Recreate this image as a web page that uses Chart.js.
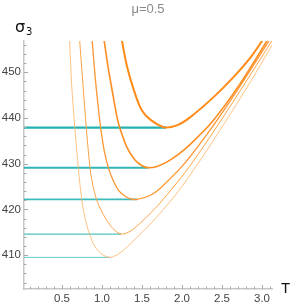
<!DOCTYPE html>
<html lang="en">
<head>
  <meta charset="UTF-8" />
  <title>sigma3 vs T, mu=0.5</title>
  <script src="https://cdn.jsdelivr.net/npm/chart.js@4.4.1/dist/chart.umd.min.js"></script>
  <style>
    body {
      margin: 0;
      background: #fff;
    }
    .wrap {
      position: relative;
      width: 291px;
      height: 308px;
    }
  </style>
</head>
<body>

<div class="wrap"><canvas id="sigmaChart"></canvas></div>

<script>
  // curves sigma3(T), lowest (thin) to highest (thick)
  const curve1T = [0.594, 0.621, 0.6625, 0.704, 0.746, 0.7875, 0.841, 0.9125, 0.996, 1.10, 1.225, 1.35, 1.475, 1.60, 1.9125, 2.225, 2.5375, 2.85, 3.181];
  const curve1S = [457.48, 447.20, 437.35, 429.10, 422.19, 418.10, 414.75, 411.82, 410.22, 409.50, 410.48, 412.41, 414.53, 416.72, 423.00, 430.66, 439.04, 447.77, 457.61];

  const curve2T = [0.71875, 0.7625, 0.80625, 0.85, 0.885, 0.93125, 0.9875, 1.05, 1.1375, 1.2375, 1.35, 1.475, 1.60, 1.725, 2.0375, 2.35, 2.725, 3.15];
  const curve2S = [457.48, 447.20, 437.35, 429.10, 425.32, 422.19, 419.85, 417.88, 415.80, 414.60, 415.19, 416.94, 419.08, 421.38, 428.07, 435.86, 445.89, 457.61];

  const curve3T = [0.875, 0.9125, 0.95, 0.9875, 1.03125, 1.08125, 1.1375, 1.20, 1.275, 1.35, 1.4375, 1.60, 1.725, 2.0375, 2.4125, 2.7875, 3.125];
  const curve3S = [457.48, 449.39, 442.82, 437.35, 432.54, 429.04, 426.41, 424.33, 423.02, 422.36, 422.19, 423.04, 424.57, 430.17, 438.88, 448.67, 457.92];

  const curve4T = [1.0225, 1.07875, 1.1375, 1.1875, 1.23125, 1.30875, 1.4125, 1.50, 1.57875, 1.6875, 1.80875, 1.95, 2.10, 2.375, 2.725, 3.0875];
  const curve4S = [457.48, 450.85, 445.01, 440.20, 437.35, 433.70, 430.79, 429.54, 429.10, 429.41, 430.35, 431.99, 434.18, 439.10, 447.46, 457.61];

  const curve5T = [1.24375, 1.30875, 1.39125, 1.475, 1.5375, 1.6125, 1.70, 1.80, 1.95, 2.10, 2.3875, 2.6375, 2.85, 3.025];
  const curve5S = [457.48, 451.58, 446.48, 442.45, 440.74, 439.54, 438.56, 437.90, 438.49, 440.13, 444.46, 448.84, 453.11, 457.48];

  // minima, marked by horizontal lines from the axis
  const minT = [1.10, 1.2375, 1.4375, 1.57875, 1.80];
  const minS = [409.50, 414.60, 422.19, 429.10, 437.90];

  const xTicks = [0.5, 1.0, 1.5, 2.0, 2.5, 3.0];
  const yTicks = [410, 420, 430, 440, 450];

  const xMin = 0.025, xMax = 3.125;
  const yMin = 402.58, yMax = 456.85;

  const curves = [
    [curve1T, curve1S],
    [curve2T, curve2S],
    [curve3T, curve3S],
    [curve4T, curve4S],
    [curve5T, curve5S]
  ];
  const orangeColors = ['#ffb163', '#ffa244', '#ff9632', '#ff8d20', '#ff8a16'];
  const orangeWidths = [0.8, 1.0, 1.3, 1.6, 2.0];
  const cyanColors = ['#66cbcb', '#4cc2c2', '#3dbcbc', '#30b6b6', '#25b1b1'];
  const cyanWidths = [1.0, 1.3, 1.6, 1.9, 2.2];

  const toPoints = (ts, ss) => ts.map((t, i) => ({ x: t, y: ss[i] }));

  const datasets = [];
  // orange curves first so they sit on top of the cyan lines
  curves.forEach(([ts, ss], i) => {
    datasets.push({
      data: toPoints(ts, ss),
      borderColor: orangeColors[i],
      borderWidth: orangeWidths[i],
      showLine: true,
      pointRadius: 0,
      tension: 0.3
    });
  });
  minT.forEach((t, i) => {
    datasets.push({
      data: [{ x: xMin, y: minS[i] }, { x: t, y: minS[i] }],
      borderColor: cyanColors[i],
      borderWidth: cyanWidths[i],
      showLine: true,
      pointRadius: 0
    });
  });

  const labelFont = { family: "'Liberation Sans', Arial, sans-serif", size: 11.5 };

  // inward major/minor ticks plus the title and axis labels
  const axisDecor = {
    id: 'axisDecor',
    afterDraw(chart) {
      const { ctx, chartArea: a, scales: { x, y } } = chart;
      ctx.save();
      ctx.strokeStyle = '#a8a8a8';
      ctx.lineWidth = 1;
      ctx.beginPath();
      for (let v = 404; v <= 456; v += 2) {
        const py = Math.round(y.getPixelForValue(v)) + 0.5;
        const len = v % 10 === 0 ? 4 : 2.5;
        ctx.moveTo(a.left, py);
        ctx.lineTo(a.left + len, py);
      }
      for (let i = 1; i <= 31; i++) {
        const px = Math.round(x.getPixelForValue(i / 10)) + 0.5;
        const len = i % 5 === 0 ? 4 : 2.5;
        ctx.moveTo(px, a.bottom);
        ctx.lineTo(px, a.bottom - len);
      }
      ctx.stroke();

      ctx.fillStyle = '#8a8a8a';
      ctx.font = "13px 'Liberation Sans', Arial, sans-serif";
      ctx.textAlign = 'center';
      ctx.textBaseline = 'alphabetic';
      ctx.fillText('μ=0.5', (a.left + a.right) / 2, 13);

      ctx.fillStyle = '#111';
      ctx.textAlign = 'left';
      ctx.font = "16px 'DejaVu Sans', sans-serif";
      ctx.fillText('σ', 15, 32);
      ctx.font = "10px 'DejaVu Sans', sans-serif";
      ctx.fillText('3', 26, 35);
      ctx.font = "15px 'Liberation Sans', Arial, sans-serif";
      ctx.fillText('T', 281, 293);
      ctx.restore();
    }
  };

  new Chart(document.getElementById('sigmaChart'), {
    type: 'scatter',
    data: { datasets },
    options: {
      responsive: true,
      maintainAspectRatio: false,
      animation: false,
      layout: { padding: { top: 41, right: 19, left: 0, bottom: 0 } },
      plugins: { legend: { display: false }, tooltip: { enabled: false }, title: { display: false } },
      scales: {
        x: {
          type: 'linear',
          min: xMin,
          max: xMax,
          afterBuildTicks: s => { s.ticks = xTicks.map(v => ({ value: v })); },
          afterFit: s => { s.height = 19; },
          grid: { display: false, drawTicks: false },
          border: { color: '#c6c6c6', width: 1.5 },
          ticks: {
            padding: 3,
            color: '#444',
            font: labelFont,
            maxRotation: 0,
            autoSkip: false,
            callback: v => v.toFixed(1)
          }
        },
        y: {
          type: 'linear',
          min: yMin,
          max: yMax,
          afterBuildTicks: s => { s.ticks = yTicks.map(v => ({ value: v })); },
          afterFit: s => { s.width = 24; },
          grid: { display: false, drawTicks: false },
          border: { color: '#c6c6c6', width: 1.5 },
          ticks: {
            padding: 3,
            color: '#444',
            font: labelFont,
            autoSkip: false,
            callback: v => String(v)
          }
        }
      }
    },
    plugins: [axisDecor]
  });
</script>

</body>
</html>
